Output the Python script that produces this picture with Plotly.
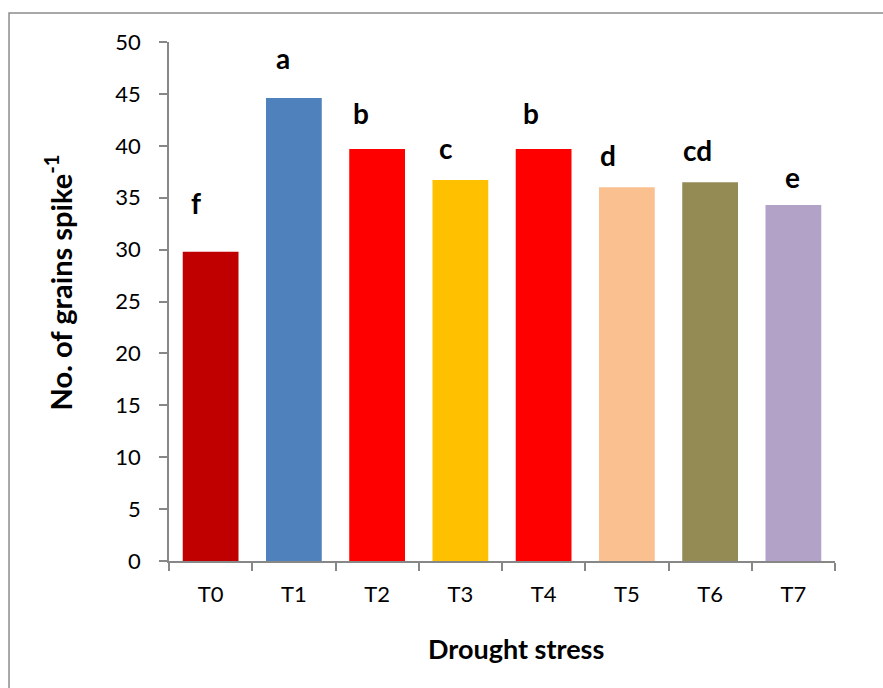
import plotly.graph_objects as go

categories = ["T0", "T1", "T2", "T3", "T4", "T5", "T6", "T7"]
values = [29.8, 44.6, 39.7, 36.7, 39.7, 36.0, 36.5, 34.3]
letters = ["f", "a", "b", "c", "b", "d", "cd", "e"]
colors = ["#C00000", "#4F81BD", "#FF0000", "#FFC000", "#FF0000", "#FAC090", "#948A54", "#B3A2C7"]
y_ticks = [0, 5, 10, 15, 20, 25, 30, 35, 40, 45, 50]

# label placement (pixel offsets relative to bar top/center)
label_yshift = [49, 40, 36, 32, 36, 32, 32, 28]
label_xshift = [-15, -11, -16, -14, -13, -19, -13, -1]

FONT = "Lato"

fig = go.Figure()
fig.add_trace(go.Bar(x=categories, y=values, marker=dict(color=colors, line=dict(width=0)),
                     showlegend=False, hoverinfo="x+y"))

for c, v, t, ys, xs in zip(categories, values, letters, label_yshift, label_xshift):
    fig.add_annotation(x=c, y=v, text=f"<b>{t}</b>", showarrow=False, yshift=ys, xshift=xs,
                       font=dict(family=FONT, size=28, color="black"))

fig.add_annotation(xref="paper", yref="paper", x=0, y=0.5, xshift=-111, yshift=19, textangle=-90,
                   xanchor="center", yanchor="middle",
                   text="<b>No. of grains spike<sup>-1</sup></b>", showarrow=False,
                   font=dict(family=FONT, size=29, color="black"))
fig.add_annotation(xref="paper", yref="paper", x=0.5, y=0, yshift=-87, xshift=14,
                   xanchor="center", yanchor="middle",
                   text="<b>Drought stress</b>", showarrow=False,
                   font=dict(family=FONT, size=27, color="black"))

fig.add_shape(type="rect", xref="paper", yref="paper", x0=-0.2402, x1=1.3, y0=-0.5, y1=1.0559,
              line=dict(color="#8C8C8C", width=1.5), fillcolor="rgba(0,0,0,0)", layer="below")

fig.update_layout(
    width=883, height=688,
    margin=dict(l=169, r=48, t=42, b=127),
    paper_bgcolor="white", plot_bgcolor="white",
    bargap=0.33,
    font=dict(family=FONT, size=22, color="black"),
    xaxis=dict(type="category", showline=True, linecolor="#878787", linewidth=1.5,
               ticks="outside", tickson="boundaries", ticklen=8, tickcolor="#878787", tickwidth=1.5,
               ticklabelstandoff=13,
               tickfont=dict(family=FONT, size=22), showgrid=False, zeroline=False),
    yaxis=dict(range=[0, 50], tickvals=y_ticks, showline=True, linecolor="#878787", linewidth=1.5,
               ticks="outside", ticklen=8, tickcolor="#878787", tickwidth=1.5,
               ticklabelstandoff=14,
               tickfont=dict(family=FONT, size=22), showgrid=False, zeroline=False),
)

fig.write_html("out.html")
